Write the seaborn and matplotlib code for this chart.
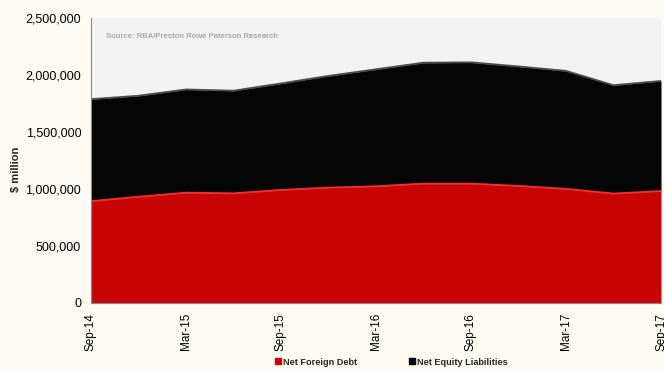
import matplotlib
matplotlib.use("Agg")
import matplotlib.pyplot as plt
import seaborn as sns
import numpy as np
from matplotlib.lines import Line2D

quarters = ["Sep-14", "Dec-14", "Mar-15", "Jun-15", "Sep-15", "Dec-15", "Mar-16",
            "Jun-16", "Sep-16", "Dec-16", "Mar-17", "Jun-17", "Sep-17"]
net_foreign_debt = [893000, 932000, 968000, 962000, 992000, 1012000, 1024000,
                    1047000, 1047000, 1027000, 1001000, 960000, 982000]
total_liabilities = [1788000, 1818000, 1873000, 1862000, 1926000, 1992000, 2050000,
                     2108000, 2111000, 2075000, 2036000, 1910000, 1948000]
net_equity_liabilities = [t - d for t, d in zip(total_liabilities, net_foreign_debt)]
tick_labels = ["Sep-14", "Mar-15", "Sep-15", "Mar-16", "Sep-16", "Mar-17", "Sep-17"]

sns.set_style("white")
plt.rcParams["font.family"] = ["Liberation Sans", "DejaVu Sans"]

fig = plt.figure(figsize=(6.64, 3.71), dpi=100)
fig.patch.set_facecolor("#FEFBF3")
ax = fig.add_axes([0.137, 0.1833, 0.8585, 0.7682])
ax.set_facecolor("#F2F2F2")

x = np.arange(len(quarters))
ax.stackplot(x, net_foreign_debt, net_equity_liabilities,
             colors=["#C90404", "#050505"], linewidth=0)
sns.lineplot(x=x, y=total_liabilities, ax=ax, color="#4a4a4a", lw=1.3)
sns.lineplot(x=x, y=net_foreign_debt, ax=ax, color="#F03030", lw=1.3)

ax.set_xlim(0, len(quarters) - 1)
ax.set_ylim(0, 2500000)
ax.set_yticks(np.arange(0, 2500001, 500000))
ax.set_yticklabels([f"{v:,}" for v in range(0, 2500001, 500000)], fontsize=9)
ticks_pos = [quarters.index(t) for t in tick_labels]
ax.set_xticks(ticks_pos)
ax.set_xticklabels(tick_labels, rotation=90, fontsize=8.5)
ax.tick_params(axis="both", direction="out", length=4, width=0.8, color="#888888",
               labelcolor="#000000", pad=3)
ax.set_xlabel("")
ax.set_ylabel("$ million", fontsize=8, fontweight="bold", labelpad=6)
ax.yaxis.set_label_coords(-0.122, 0.47)

for s in ["top", "right"]:
    ax.spines[s].set_visible(False)
for s in ["left", "bottom"]:
    ax.spines[s].set_color("#888888")
    ax.spines[s].set_linewidth(0.8)

ax.text(0.026, 0.935, "Source: RBA/Preston Rowe Paterson Research",
        transform=ax.transAxes, fontsize=5.5, fontweight="bold", color="#A8A8A8",
        va="center", ha="left")

handles = [Line2D([], [], marker="s", linestyle="none", markersize=5,
                  markerfacecolor="#C90404", markeredgecolor="#C90404"),
           Line2D([], [], marker="s", linestyle="none", markersize=5,
                  markerfacecolor="#050505", markeredgecolor="#050505")]
leg = fig.legend(handles, ["Net Foreign Debt", "Net Equity Liabilities"],
                 loc="center", bbox_to_anchor=(0.588, 0.024), ncol=2, frameon=False,
                 prop={"size": 6.6, "weight": "bold"}, handletextpad=0.05,
                 columnspacing=5.4, handlelength=1.0, borderaxespad=0)

fig.savefig("out.png", dpi=100, facecolor=fig.get_facecolor())
